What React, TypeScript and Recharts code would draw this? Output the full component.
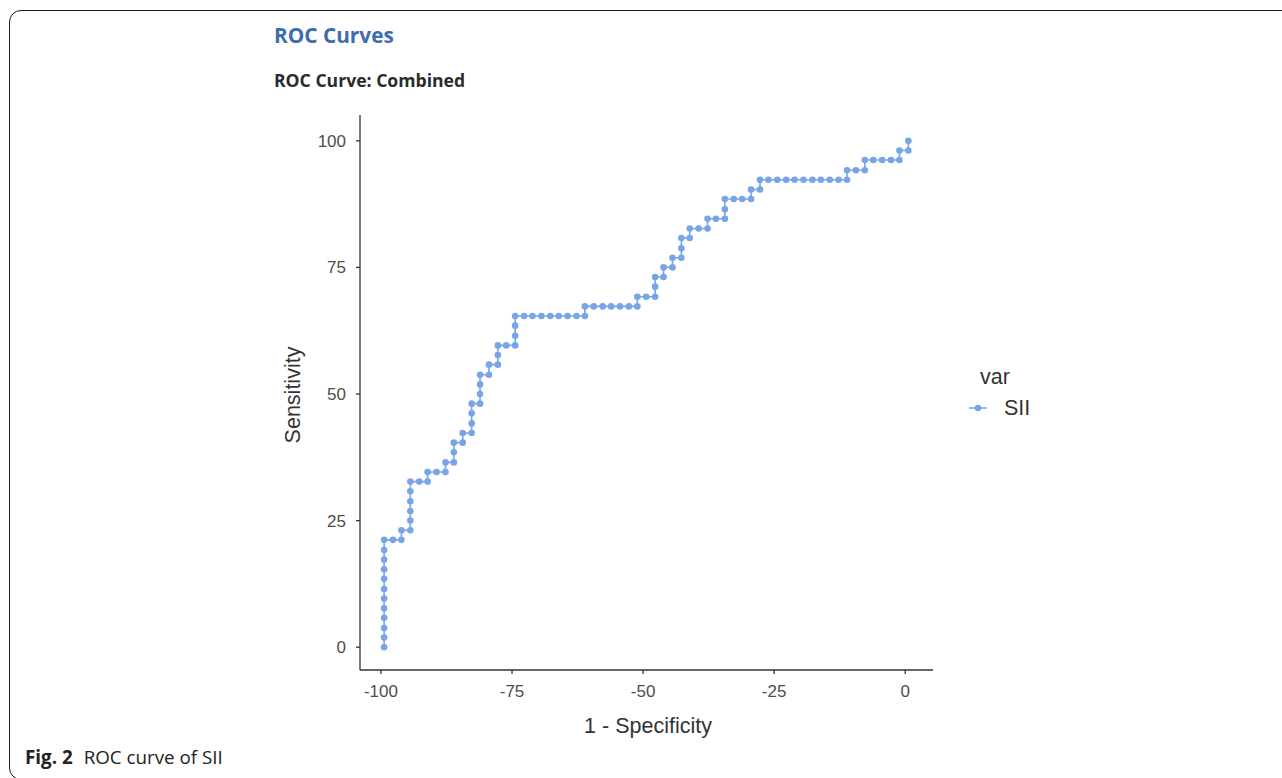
import { LineChart, Line, XAxis, YAxis, Label } from 'recharts'

// 1 - specificity (x) and sensitivity (y)
const oneMinusSpecificity = [
  -99.4, -99.4, -99.4, -99.4, -99.4, -99.4, -99.4, -99.4, -99.4, -99.4, -99.4, -99.4,
  -97.7, -96.1, -96.1, -94.4, -94.4, -94.4, -94.4, -94.4, -94.4,
  -92.7, -91.1, -91.1, -89.4, -87.7, -87.7, -86.1, -86.1, -86.1,
  -84.4, -84.4, -82.7, -82.7, -82.7, -82.7, -81.1, -81.1, -81.1, -81.1,
  -79.4, -79.4, -77.7, -77.7, -77.7, -76.1, -74.4, -74.4, -74.4, -74.4,
  -72.7, -71.1, -69.4, -67.7, -66.1, -64.4, -62.7, -61.1, -61.1,
  -59.4, -57.7, -56.1, -54.4, -52.7, -51.1, -51.1,
  -49.4, -47.7, -47.7, -47.7, -46.1, -46.1, -44.4, -44.4,
  -42.7, -42.7, -42.7, -41.1, -41.1, -39.4, -37.7, -37.7, -36.1,
  -34.4, -34.4, -34.4, -32.7, -31.1, -29.4, -29.4, -27.7, -27.7,
  -26.1, -24.4, -22.7, -21.1, -19.4, -17.7, -16.1, -14.4, -12.7, -11.1, -11.1,
  -9.4, -7.7, -7.7, -6.1, -4.4, -2.7, -1.1, -1.1, 0.6, 0.6,
]

const sensitivity = [
  0, 1.9, 3.8, 5.8, 7.7, 9.6, 11.5, 13.5, 15.4, 17.3, 19.2, 21.2,
  21.2, 21.2, 23.1, 23.1, 25.0, 26.9, 28.8, 30.8, 32.7,
  32.7, 32.7, 34.6, 34.6, 34.6, 36.5, 36.5, 38.5, 40.4,
  40.4, 42.3, 42.3, 44.2, 46.2, 48.1, 48.1, 50.0, 51.9, 53.8,
  53.8, 55.8, 55.8, 57.7, 59.6, 59.6, 59.6, 61.5, 63.5, 65.4,
  65.4, 65.4, 65.4, 65.4, 65.4, 65.4, 65.4, 65.4, 67.3,
  67.3, 67.3, 67.3, 67.3, 67.3, 67.3, 69.2,
  69.2, 69.2, 71.2, 73.1, 73.1, 75.0, 75.0, 76.9,
  76.9, 78.8, 80.8, 80.8, 82.7, 82.7, 82.7, 84.6, 84.6,
  84.6, 86.5, 88.5, 88.5, 88.5, 88.5, 90.4, 90.4, 92.3,
  92.3, 92.3, 92.3, 92.3, 92.3, 92.3, 92.3, 92.3, 92.3, 92.3, 94.2,
  94.2, 94.2, 96.2, 96.2, 96.2, 96.2, 96.2, 98.1, 98.1, 100,
]

const xTicks = [-100, -75, -50, -25, 0]
const yTicks = [0, 25, 50, 75, 100]
const seriesName = 'SII'

const data = oneMinusSpecificity.map((x, i) => ({ x, y: sensitivity[i] }))

const BLUE = '#78a4e8'
const AXIS = '#333333'
const SANS = '"Liberation Sans", Arial, sans-serif'
const TICK_FONT = { fill: '#4d4d4d', fontSize: 17, fontFamily: SANS }

// legend drawn beside the plot, like ggplot's right-hand guide
function LegendBox() {
  return (
    <div style={{ position: 'absolute', left: 968, top: 365, fontFamily: SANS, color: '#333' }}>
      <div style={{ fontSize: 21.5, marginLeft: 12, lineHeight: '24px' }}>var</div>
      <div style={{ display: 'flex', alignItems: 'center', marginTop: 7 }}>
        <svg width={20} height={12}>
          <line x1={1} y1={6} x2={19} y2={6} stroke={BLUE} strokeWidth={1.6} />
          <circle cx={10} cy={6} r={3.3} fill={BLUE} />
        </svg>
        <span style={{ fontSize: 21.5, marginLeft: 16, lineHeight: '24px' }}>{seriesName}</span>
      </div>
    </div>
  )
}

export default function App() {
  return (
    <div style={{ position: 'fixed', left: 0, top: 0, width: 1282, height: 778, overflow: 'hidden', background: '#fff' }}>
      <div style={{
        position: 'absolute', left: 9, top: 10, width: 1320, height: 770,
        border: '1px solid #1a1a1a', borderRadius: 12, boxSizing: 'border-box',
      }} />
      <div style={{
        position: 'absolute', left: 274, top: 21, fontFamily: '"Open Sans", sans-serif',
        fontWeight: 700, fontSize: 20.8, color: '#3d6db0', whiteSpace: 'nowrap',
      }}>ROC Curves</div>
      <div style={{
        position: 'absolute', left: 274, top: 68, fontFamily: '"Open Sans", sans-serif',
        fontWeight: 700, fontSize: 17.6, color: '#2b2b2b', whiteSpace: 'nowrap',
      }}>ROC Curve: Combined</div>

      <div style={{ position: 'absolute', left: 0, top: 0 }}>
        <LineChart width={1282} height={778} data={data}
          margin={{ top: 115, right: 349, bottom: 78, left: 300 }}>
          <XAxis type="number" dataKey="x" domain={[-104, 5.3]} ticks={xTicks} height={30}
            allowDataOverflow tick={TICK_FONT} tickSize={4} tickMargin={11}
            axisLine={{ stroke: AXIS, strokeWidth: 1.3 }} tickLine={{ stroke: AXIS, strokeWidth: 1.3 }}>
            <Label content={() => (
              <text x={648} y={733} textAnchor="middle" fill="#333" fontSize={21.5}
                fontFamily={SANS}>1 - Specificity</text>
            )} />
          </XAxis>
          <YAxis type="number" domain={[-4.5, 105.1]} ticks={yTicks} width={60}
            allowDataOverflow tick={TICK_FONT} tickSize={4} tickMargin={10}
            axisLine={{ stroke: AXIS, strokeWidth: 1.3 }} tickLine={{ stroke: AXIS, strokeWidth: 1.3 }}>
            <Label content={() => (
              <text transform="translate(300, 395) rotate(-90)" textAnchor="middle" fill="#333" fontSize={21.5}
                fontFamily={SANS}>Sensitivity</text>
            )} />
          </YAxis>
          <Line type="linear" dataKey="y" name={seriesName} stroke={BLUE} strokeWidth={1.6}
            dot={{ r: 3.3, fill: BLUE, stroke: 'none' }} activeDot={false} isAnimationActive={false} />
        </LineChart>
      </div>
      <LegendBox />

      <div style={{
        position: 'absolute', left: 25, top: 744, fontFamily: '"Open Sans", sans-serif',
        fontSize: 18.8, color: '#222', whiteSpace: 'nowrap',
      }}>
        <b>Fig. 2</b><span style={{ marginLeft: 11 }}>ROC curve of SII</span>
      </div>
    </div>
  )
}
